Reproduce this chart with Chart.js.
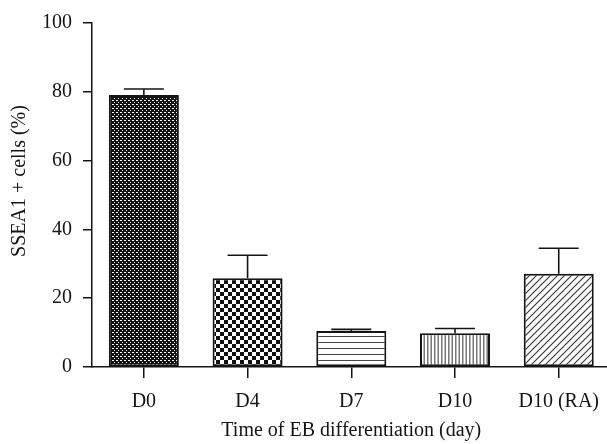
<!DOCTYPE html>
<html><head><meta charset="utf-8">
<script src="https://cdn.jsdelivr.net/npm/chart.js@4.4.0/dist/chart.umd.min.js"></script>
<style>
html,body{margin:0;padding:0;background:#fff;overflow:hidden;width:607px;height:444px}
#wrap{width:611px;height:444px;position:relative}
canvas{display:block}
</style>
</head><body><div id="wrap"><canvas id="c" width="611" height="444"></canvas></div>
<script>
const categories = ['D0', 'D4', 'D7', 'D10', 'D10 (RA)'];
const meanValues = [79.1, 25.8, 10.5, 9.8, 27.1];
const upperErrors = [1.7, 6.7, 0.45, 1.4, 7.4];
const yTickStep = 20;
const yMin = 0, yMax = 100;
const xTitle = 'Time of EB differentiation (day)';
const yTitle = 'SSEA1 + cells (%)';

const FONT = '"Liberation Serif", "DejaVu Serif", serif';
const INK = '#141414';

function tile(w, h, draw) {
  const c = document.createElement('canvas');
  c.width = w; c.height = h;
  const g = c.getContext('2d');
  g.fillStyle = '#fff'; g.fillRect(0, 0, w, h);
  draw(g, w, h);
  return document.createElement('canvas').getContext('2d').createPattern(c, 'repeat');
}
const patDots = tile(4, 4, (g, w, h) => {
  g.fillStyle = '#111'; g.fillRect(0, 0, w, h);
  g.fillStyle = '#fff'; g.fillRect(0, 0, 2, 1); g.fillRect(2, 2, 1, 1);
});
const patCheck = tile(8, 8, (g) => { g.fillStyle = '#111'; g.fillRect(0, 0, 4, 4); g.fillRect(4, 4, 4, 4); });
const patHoriz = tile(8, 6, (g, w) => { g.fillStyle = '#444'; g.fillRect(0, 0, w, 1); });
const patVert = tile(7, 8, (g, w, h) => { g.fillStyle = '#777'; g.fillRect(0, 0, 1.5, h); g.fillRect(3.5, 0, 1.5, h); });
const patDiag = tile(7, 7, (g) => {
  g.strokeStyle = '#333'; g.lineWidth = 1.1;
  g.beginPath();
  g.moveTo(-1, 8); g.lineTo(8, -1);
  g.moveTo(-2, 2); g.lineTo(2, -2);
  g.moveTo(5, 9); g.lineTo(9, 5);
  g.stroke();
});
const barFills = [patDots, patCheck, patHoriz, patVert, patDiag];

const errorBars = {
  id: 'errorBars',
  afterDatasetsDraw(chart) {
    const meta = chart.getDatasetMeta(0);
    const ys = chart.scales.y;
    const ctx = chart.ctx;
    ctx.save();
    ctx.strokeStyle = INK;
    ctx.lineWidth = 1.6;
    meta.data.forEach((bar, i) => {
      const x = bar.x;
      const y0 = ys.getPixelForValue(meanValues[i]);
      const y1 = ys.getPixelForValue(meanValues[i] + upperErrors[i]);
      ctx.beginPath();
      ctx.moveTo(x, y0); ctx.lineTo(x, y1);
      ctx.moveTo(x - 20, y1); ctx.lineTo(x + 20, y1);
      ctx.stroke();
    });
    ctx.restore();
  }
};

const yTitlePlugin = {
  id: 'yTitlePlugin',
  afterDraw(chart) {
    const ctx = chart.ctx;
    ctx.save();
    ctx.fillStyle = INK;
    ctx.font = '20px ' + FONT;
    ctx.textAlign = 'center';
    ctx.textBaseline = 'middle';
    ctx.translate(20, 181);
    ctx.rotate(-Math.PI / 2);
    ctx.fillText(yTitle, 0, 0);
    ctx.restore();
  }
};

new Chart(document.getElementById('c'), {
  type: 'bar',
  data: {
    labels: categories,
    datasets: [{
      data: meanValues,
      backgroundColor: barFills,
      borderColor: INK,
      borderWidth: 2,
      borderSkipped: false,
      categoryPercentage: 1,
      barPercentage: 0.675
    }]
  },
  options: {
    responsive: false,
    animation: false,
    devicePixelRatio: 1,
    layout: { padding: { top: 17, left: 0, right: 0, bottom: 0 } },
    plugins: { legend: { display: false }, tooltip: { enabled: false } },
    scales: {
      x: {
        afterFit(s) { s.height = 77; },
        grid: { offset: false, drawOnChartArea: false, tickLength: 11, color: INK, lineWidth: 1.5 },
        border: { display: true, color: INK, width: 1.5 },
        ticks: { color: INK, font: { family: FONT, size: 20 }, padding: 12, maxRotation: 0, autoSkip: false },
        title: { display: true, text: xTitle, color: INK, font: { family: FONT, size: 20 }, padding: { top: 0, bottom: 1 } }
      },
      y: {
        min: yMin, max: yMax,
        afterFit(s) { s.width = 92; },
        grid: { drawOnChartArea: false, tickLength: 9, color: INK, lineWidth: 1.5 },
        border: { display: true, color: INK, width: 1.5 },
        ticks: { stepSize: yTickStep, color: INK, font: { family: FONT, size: 20 }, padding: 11 }
      }
    }
  },
  plugins: [errorBars, yTitlePlugin]
});
</script>
</body></html>
